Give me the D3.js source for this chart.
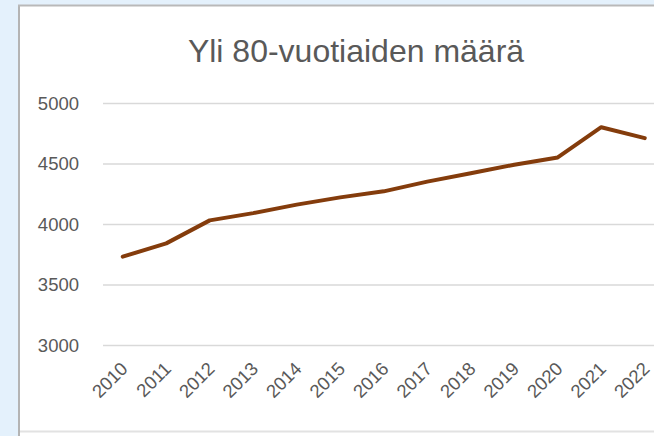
<!DOCTYPE html>
<html>
<head>
<meta charset="utf-8">
<script src="https://cdn.jsdelivr.net/npm/d3@7"></script>
<style>
  html, body { margin: 0; padding: 0; background: #e4f1fc; }
  svg { display: block; }
</style>
</head>
<body>
<script>
// Number of people aged over 80, per year
const years = ["2010","2011","2012","2013","2014","2015","2016","2017","2018","2019","2020","2021","2022"];
const counts = [3730, 3840, 4030, 4090, 4160, 4220, 4270, 4350, 4420, 4490, 4550, 4800, 4710];
const yTicks = [3000, 3500, 4000, 4500, 5000];
const titleText = "Yli 80-vuotiaiden määrä";

const W = 654, H = 436;
const svg = d3.select("body").append("svg").attr("width", W).attr("height", H);

// window background and chart frame
svg.append("rect").attr("x", 0).attr("y", 0).attr("width", W).attr("height", H).attr("fill", "#e4f1fc");
svg.append("rect").attr("x", 19).attr("y", 5).attr("width", W - 19).attr("height", H - 5).attr("fill", "#ffffff");
svg.append("line").attr("x1", 19).attr("x2", 19).attr("y1", 5).attr("y2", H)
  .attr("stroke", "#b4b4b4").attr("stroke-width", 2);
svg.append("line").attr("x1", 18).attr("x2", W).attr("y1", 5.5).attr("y2", 5.5)
  .attr("stroke", "#b9b9b9").attr("stroke-width", 2);
svg.append("line").attr("x1", 20).attr("x2", W).attr("y1", 431.5).attr("y2", 431.5)
  .attr("stroke", "#e2e2e2").attr("stroke-width", 2);

const font = "'Liberation Sans', Arial, sans-serif";
const textColor = "#595959";

// plot area
const plotLeft = 101, plotRight = 101 + 13 * 43.5;
const x = d3.scaleBand().domain(years).range([plotLeft, plotRight]);
const y = d3.scaleLinear().domain([3000, 5000]).range([345, 103]);

// gridlines and value labels
const yAxis = d3.axisLeft(y).tickValues(yTicks).tickSize(0).tickPadding(0).tickFormat(d3.format("d"));
const gy = svg.append("g").attr("transform", `translate(${plotLeft},0)`).call(yAxis);
gy.select(".domain").remove();
gy.selectAll(".tick line").attr("x1", 2).attr("x2", W).attr("stroke", "#d9d9d9").attr("stroke-width", 1.3);
gy.selectAll(".tick text").attr("x", -22).attr("dy", "0.35em")
  .attr("fill", textColor).style("font-family", font).style("font-size", "18.5px");

// year labels, rotated
const xAxis = d3.axisBottom(x).tickSize(0).tickPadding(0);
const gx = svg.append("g").attr("transform", "translate(0,352)").call(xAxis);
gx.select(".domain").remove();
gx.selectAll(".tick text")
  .attr("text-anchor", "end").attr("y", 0).attr("dy", 0)
  .attr("transform", "translate(6,18) rotate(-45)")
  .attr("fill", textColor).style("font-family", font).style("font-size", "18.5px");

// series line
const line = d3.line()
  .x((d, i) => x(years[i]) + x.bandwidth() / 2)
  .y(d => y(d));
svg.append("path").datum(counts)
  .attr("d", line)
  .attr("fill", "none").attr("stroke", "#843c0c").attr("stroke-width", 4)
  .attr("stroke-linejoin", "round").attr("stroke-linecap", "round");

// title
svg.append("text").attr("x", 356).attr("y", 62).attr("text-anchor", "middle")
  .attr("fill", textColor).style("font-family", font).style("font-size", "32px")
  .text(titleText);
</script>
</body>
</html>
